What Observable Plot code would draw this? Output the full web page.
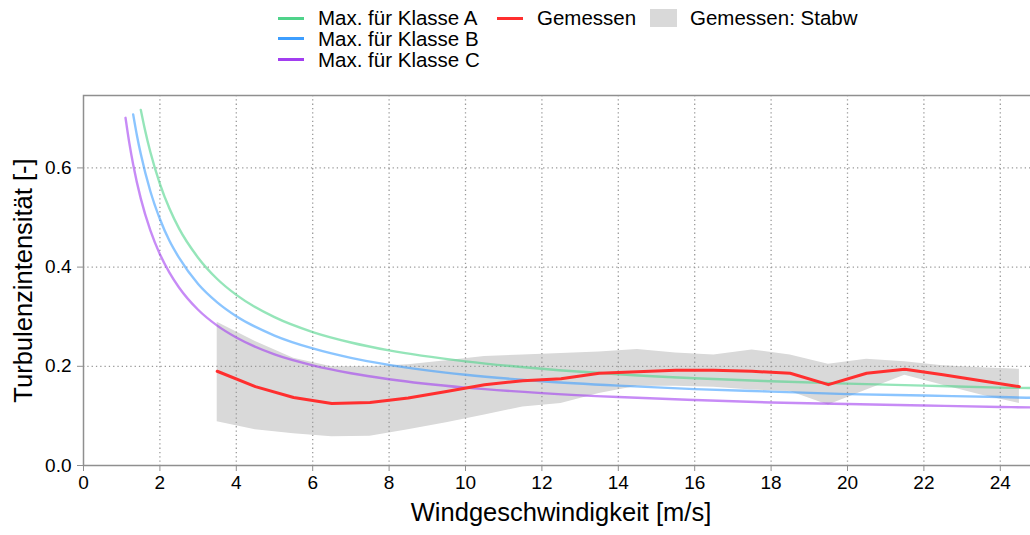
<!DOCTYPE html>
<html>
<head>
<meta charset="utf-8">
<script src="https://cdn.jsdelivr.net/npm/d3@7"></script>
<script src="https://cdn.jsdelivr.net/npm/@observablehq/plot@0.6"></script>
<style>
  html, body { margin: 0; padding: 0; background: #fff; overflow: hidden; }
  body { font-family: "Liberation Sans", Arial, sans-serif; width: 1030px; height: 535px; }
  #legend { position: relative; height: 75px; font-size: 20.5px; color: #000; }
  .item { position: absolute; display: flex; align-items: center; height: 20px; line-height: 20px; }
  .swatch-line { width: 26px; height: 3px; margin-right: 14px; }
  .swatch-box { width: 27px; height: 18px; margin-right: 13px; }
  #chart svg { display: block; max-width: none !important; }
</style>
</head>
<body>
<div id="legend"></div>
<div id="chart"></div>
<script>
// IEC turbulence classes: maximum turbulence intensity over wind speed
const speedA = [1.5, 1.6, 1.75, 2, 2.25, 2.5, 3, 3.5, 4, 5, 6, 7, 8, 10, 12, 14, 16, 18, 20, 22, 24, 25];
const tiA    = [0.717, 0.680, 0.632, 0.568, 0.518, 0.478, 0.419, 0.376, 0.344, 0.299, 0.269, 0.248, 0.232, 0.210, 0.195, 0.184, 0.176, 0.170, 0.165, 0.161, 0.157, 0.156];

const speedB = [1.3, 1.4, 1.5, 1.75, 2, 2.25, 2.5, 3, 3.5, 4, 5, 6, 7, 8, 10, 12, 14, 16, 18, 20, 22, 24, 25];
const tiB    = [0.708, 0.665, 0.628, 0.553, 0.497, 0.453, 0.419, 0.366, 0.329, 0.301, 0.262, 0.236, 0.217, 0.203, 0.183, 0.170, 0.161, 0.154, 0.149, 0.144, 0.141, 0.138, 0.136];

const speedC = [1.1, 1.2, 1.3, 1.5, 1.75, 2, 2.25, 2.5, 3, 3.5, 4, 5, 6, 7, 8, 10, 12, 14, 16, 18, 20, 22, 24, 25];
const tiC    = [0.701, 0.650, 0.607, 0.538, 0.474, 0.426, 0.389, 0.359, 0.314, 0.282, 0.258, 0.224, 0.202, 0.186, 0.174, 0.157, 0.146, 0.138, 0.132, 0.127, 0.124, 0.121, 0.118, 0.117];

// Measured turbulence intensity per 1 m/s bin (bin centres)
const binSpeed = [3.5, 4.5, 5.5, 6.5, 7.5, 8.5, 9.5, 10.5, 11.5, 12.5, 13.5, 14.5, 15.5, 16.5, 17.5, 18.5, 19.5, 20.5, 21.5, 22.5, 23.5, 24.5];
const tiMeasured = [0.190, 0.159, 0.137, 0.125, 0.127, 0.136, 0.149, 0.163, 0.171, 0.175, 0.186, 0.189, 0.192, 0.192, 0.190, 0.186, 0.163, 0.186, 0.194, 0.183, 0.171, 0.159];
// Mean ± standard deviation
const tiUpper = [0.289, 0.250, 0.216, 0.199, 0.199, 0.203, 0.211, 0.220, 0.223, 0.226, 0.229, 0.234, 0.227, 0.223, 0.233, 0.223, 0.204, 0.214, 0.209, 0.201, 0.197, 0.194];
const tiLower = [0.088, 0.072, 0.064, 0.058, 0.059, 0.072, 0.086, 0.102, 0.118, 0.125, 0.145, 0.160, 0.160, 0.158, 0.152, 0.149, 0.122, 0.152, 0.182, 0.162, 0.142, 0.125];

const xTicks = [0, 2, 4, 6, 8, 10, 12, 14, 16, 18, 20, 22, 24];
const yTicks = [0, 0.2, 0.4, 0.6];

const seriesNames = ["Max. für Klasse A", "Max. für Klasse B", "Max. für Klasse C", "Gemessen", "Gemessen: Stabw"];
const colorA = "#4fd38a", colorB = "#3d9eff", colorC = "#a23ef0", colorMeas = "#ff2f2f", colorBand = "#d9d9d9";

const zip = (xs, ys) => xs.map((v, i) => ({v, ti: ys[i]}));
const classA = zip(speedA, tiA);
const classB = zip(speedB, tiB);
const classC = zip(speedC, tiC);
const measured = zip(binSpeed, tiMeasured);
const band = binSpeed.map((v, i) => ({v, lo: tiLower[i], hi: tiUpper[i]}));

// Legend
const legend = document.getElementById("legend");
const legendItems = [
  {name: seriesNames[0], color: colorA, kind: "line", left: 278, top: 8},
  {name: seriesNames[1], color: colorB, kind: "line", left: 278, top: 28.5},
  {name: seriesNames[2], color: colorC, kind: "line", left: 278, top: 49.5},
  {name: seriesNames[3], color: colorMeas, kind: "line", left: 497, top: 8},
  {name: seriesNames[4], color: colorBand, kind: "box", left: 650, top: 8}
];
for (const it of legendItems) {
  const el = document.createElement("div");
  el.className = "item";
  el.style.left = it.left + "px";
  el.style.top = it.top + "px";
  const sw = document.createElement("span");
  sw.className = it.kind === "line" ? "swatch-line" : "swatch-box";
  sw.style.background = it.color;
  const tx = document.createElement("span");
  tx.textContent = it.name;
  el.append(sw, tx);
  legend.append(el);
}

const lineOpts = {x: "v", y: "ti", strokeWidth: 2.4, strokeOpacity: 0.6, curve: "monotone-x"};
const axisColor = "#8f8f8f";

const chart = Plot.plot({
  width: 1038,
  height: 460,
  marginLeft: 83,
  marginRight: 0,
  marginTop: 20,
  marginBottom: 70,
  x: {domain: [0, 25], label: null},
  y: {domain: [0, 0.746], label: null},
  style: {fontFamily: "'Liberation Sans', Arial, sans-serif", fontSize: "19px", color: "#000", background: "#fff", overflow: "visible", maxWidth: "none"},
  marks: [
    Plot.areaY(band, {x: "v", y1: "lo", y2: "hi", fill: colorBand}),
    Plot.gridX(xTicks.filter(d => d > 0), {stroke: "#9a9a9a", strokeOpacity: 1, strokeWidth: 1.3, strokeDasharray: "1.3,3"}),
    Plot.gridY(yTicks.filter(d => d > 0), {stroke: "#9a9a9a", strokeOpacity: 1, strokeWidth: 1.3, strokeDasharray: "1.3,3"}),
    Plot.line(classA, {...lineOpts, stroke: colorA}),
    Plot.line(classB, {...lineOpts, stroke: colorB}),
    Plot.line(classC, {...lineOpts, stroke: colorC}),
    Plot.line(measured, {x: "v", y: "ti", stroke: colorMeas, strokeWidth: 3}),
    Plot.frame({stroke: axisColor, strokeWidth: 1.5}),
    Plot.axisX(xTicks, {tickSize: 6, tickPadding: 4, stroke: axisColor, fontSize: 19, label: null}),
    Plot.axisY(yTicks, {tickSize: 6, tickPadding: 6, stroke: axisColor, fontSize: 19, tickFormat: d => d.toFixed(1), label: null}),
    Plot.text(["Windgeschwindigkeit [m/s]"], {text: d => d, frameAnchor: "bottom", textAnchor: "middle", dy: 55, fontSize: 25.5}),
    Plot.text(["Turbulenzintensität [-]"], {text: d => d, frameAnchor: "left", textAnchor: "middle", rotate: -90, dx: -60, fontSize: 25.5})
  ]
});
document.getElementById("chart").append(chart);
</script>
</body>
</html>
